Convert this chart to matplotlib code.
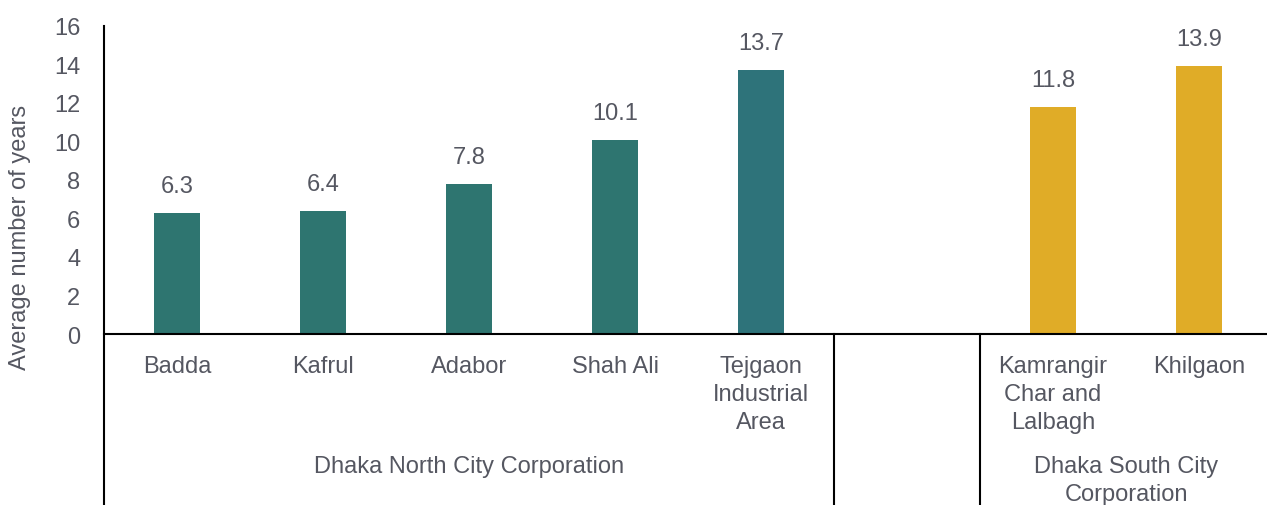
import matplotlib
matplotlib.use("Agg")
import matplotlib.pyplot as plt
import matplotlib.transforms as mtransforms

plt.rcParams['font.family'] = ['Liberation Sans', 'DejaVu Sans']

categories = ["Badda", "Kafrul", "Adabor", "Shah Ali", "Tejgaon\nIndustrial\nArea",
              "", "Kamrangir\nChar and\nLalbagh", "Khilgaon"]
values = [6.3, 6.4, 7.8, 10.1, 13.7, None, 11.8, 13.9]
bar_colors = ["#2e7570", "#2e7570", "#2e7570", "#2e7570", "#2e737a", "none", "#e0ac27", "#e0ac27"]
groups = ["Dhaka North City Corporation", "", "Dhaka South City\nCorporation"]
group_spans = [(0, 4), (5, 5), (6, 7)]
y_ticks = [0, 2, 4, 6, 8, 10, 12, 14, 16]
y_label = "Average number of years"

TXT = "#555761"
FS = 17
W, H = 1267, 506
fig = plt.figure(figsize=(W / 100, H / 100), dpi=100)
ax_left, ax_bottom_px, ax_top_px = 104, 335, 27
slot = 146
ax = fig.add_axes([ax_left / W, (H - ax_bottom_px) / H,
                   slot * len(categories) / W, (ax_bottom_px - ax_top_px) / H])

xs = list(range(len(categories)))
for x, v, c in zip(xs, values, bar_colors):
    if v is None:
        continue
    ax.bar(x, v, width=0.315, color=c, zorder=2)
    ax.annotate(f"{v:.1f}", (x, v), xytext=(0, 11.5), textcoords="offset points",
                ha="center", va="bottom", fontsize=FS, color=TXT)

ax.set_xlim(-0.5, len(categories) - 0.5)
ax.set_ylim(0, 16)
ax.set_yticks(y_ticks)
ax.tick_params(axis="y", length=0, pad=17, labelsize=FS, labelcolor=TXT)
ax.set_xticks([])
for s in ["top", "right", "left"]:
    ax.spines[s].set_visible(False)
ax.spines["bottom"].set_linewidth(1.5)
ax.spines["bottom"].set_color("black")

trans = mtransforms.blended_transform_factory(ax.transData, ax.transAxes)
ax_h = ax_bottom_px - ax_top_px
y_bot = -(H - ax_bottom_px) / ax_h

# left axis line extending through category area
ax.plot([-0.5, -0.5], [y_bot, 1], transform=trans, color="black", lw=1.5, clip_on=False)
# group separators
for xsep in [4.5, 5.5]:
    ax.plot([xsep, xsep], [y_bot, 0], transform=trans, color="black", lw=1.5, clip_on=False)

# level-1 labels
for x, lab in zip(xs, categories):
    if lab:
        ax.text(x, -(356 - ax_bottom_px) / ax_h, lab, transform=trans, ha="center", va="top",
                fontsize=FS, color=TXT, linespacing=1.36)

# level-2 labels
group_y = [467, None, 481]
for (a, b), g, gy in zip(group_spans, groups, group_y):
    if g:
        ax.text((a + b) / 2, -(gy - ax_bottom_px) / ax_h, g, transform=trans, ha="center",
                va="center", fontsize=FS, color=TXT, linespacing=1.36)

fig.text(20 / W, (H - 237) / H, y_label, rotation=90, ha="center", va="center",
         fontsize=FS, color=TXT)

fig.savefig("out.png", dpi=100)
